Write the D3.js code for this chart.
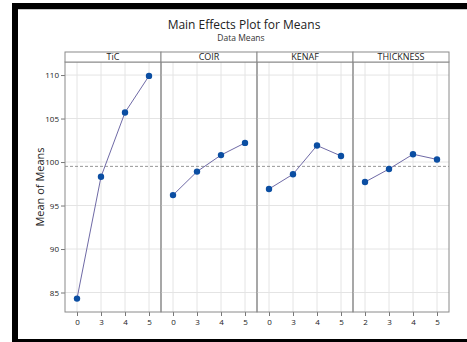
<!DOCTYPE html>
<html>
<head>
<meta charset="utf-8">
<script src="https://cdn.jsdelivr.net/npm/d3@7"></script>
<style>
  body { margin: 0; background: #fff; }
  svg { display: block; font-family: "Open Sans", "Noto Sans", sans-serif; }
</style>
</head>
<body>
<svg width="467" height="342"></svg>
<script>
// factor names and their levels
const factors = ["TiC", "COIR", "KENAF", "THICKNESS"];
const tickLabels = [
  ["0", "3", "4", "5"],
  ["0", "3", "4", "5"],
  ["0", "3", "4", "5"],
  ["2", "3", "4", "5"]
];
// means at each level
const ticMeans = [84.3, 98.3, 105.7, 109.9];
const coirMeans = [96.2, 98.9, 100.8, 102.2];
const kenafMeans = [96.9, 98.6, 101.9, 100.7];
const thicknessMeans = [97.7, 99.2, 100.9, 100.3];
const grandMean = 99.5;
const yTicks = [85, 90, 95, 100, 105, 110];

const allMeans = [ticMeans, coirMeans, kenafMeans, thicknessMeans];

const svg = d3.select("svg");

// black frame around the picture
svg.append("rect").attr("x", 12).attr("y", 3).attr("width", 470).attr("height", 6).attr("fill", "#000");
svg.append("rect").attr("x", 12).attr("y", 3).attr("width", 6).attr("height", 340).attr("fill", "#000");
svg.append("rect").attr("x", 12).attr("y", 339).attr("width", 470).attr("height", 4).attr("fill", "#000");
svg.append("line").attr("x1", 18).attr("x2", 467).attr("y1", 9.5).attr("y2", 9.5)
    .attr("stroke", "#c8c8c8").attr("stroke-width", 1);

// titles
svg.append("text").attr("x", 244).attr("y", 29).attr("text-anchor", "middle")
    .attr("font-size", 12).attr("fill", "#222").text("Main Effects Plot for Means");
svg.append("text").attr("x", 241).attr("y", 41).attr("text-anchor", "middle")
    .attr("font-size", 8.5).attr("fill", "#333").text("Data Means");

const plotLeft = 65, plotRight = 449, plotTop = 62, plotBottom = 312, stripTop = 52;
const panelW = (plotRight - plotLeft) / factors.length;

let y = d3.scaleLinear().domain([82.76, 111.5]).range([plotBottom, plotTop]);

// y axis
svg.append("g")
    .attr("transform", "translate(" + plotLeft + ",0)")
    .call(d3.axisLeft(y).tickValues(yTicks).tickSize(4).tickPadding(2))
    .call(g => g.select(".domain").remove())
    .call(g => g.selectAll("line").attr("stroke", "#777"))
    .call(g => g.selectAll("text").attr("font-size", 8).attr("fill", "#222").attr("font-family", "Open Sans"));

svg.append("text")
    .attr("transform", "translate(44," + ((plotTop + plotBottom) / 2) + ") rotate(-90)")
    .attr("text-anchor", "middle").attr("font-size", 11).attr("fill", "#222")
    .text("Mean of Means");

factors.forEach((f, i) => {
  let x0 = plotLeft + i * panelW;
  let x = d3.scalePoint().domain(tickLabels[i]).range([x0, x0 + panelW]).padding(0.5);
  let g = svg.append("g");

  // gridlines
  g.selectAll(".hgrid").data(yTicks).join("line")
      .attr("x1", x0).attr("x2", x0 + panelW)
      .attr("y1", d => y(d)).attr("y2", d => y(d))
      .attr("stroke", "#e4e4e4").attr("stroke-width", 1);
  g.selectAll(".vgrid").data(tickLabels[i]).join("line")
      .attr("x1", d => x(d)).attr("x2", d => x(d))
      .attr("y1", plotTop).attr("y2", plotBottom)
      .attr("stroke", "#e4e4e4").attr("stroke-width", 1);

  // grand mean reference
  g.append("line")
      .attr("x1", x0).attr("x2", x0 + panelW)
      .attr("y1", y(grandMean)).attr("y2", y(grandMean))
      .attr("stroke", "#8c8c8c").attr("stroke-width", 0.9).attr("stroke-dasharray", "3,2");

  // x axis
  g.append("g")
      .attr("transform", "translate(0," + plotBottom + ")")
      .call(d3.axisBottom(x).tickSize(4).tickPadding(3))
      .call(a => a.select(".domain").remove())
      .call(a => a.selectAll("line").attr("stroke", "#777"))
      .call(a => a.selectAll("text").attr("font-size", 8).attr("fill", "#222").attr("font-family", "Open Sans"));

  // panel border
  g.append("rect")
      .attr("x", x0).attr("y", plotTop).attr("width", panelW).attr("height", plotBottom - plotTop)
      .attr("fill", "none").attr("stroke", "#8a8a8a").attr("stroke-width", 1);

  // strip header
  g.append("rect")
      .attr("x", x0).attr("y", stripTop).attr("width", panelW).attr("height", plotTop - stripTop)
      .attr("fill", "#fff").attr("stroke", "#8a8a8a").attr("stroke-width", 1);
  g.append("text")
      .attr("x", x0 + panelW / 2).attr("y", plotTop - 2).attr("text-anchor", "middle")
      .attr("font-size", 9).attr("fill", "#222").text(f);

  let data = tickLabels[i].map((t, j) => ({ t: t, v: allMeans[i][j] }));
  let line = d3.line().x(d => x(d.t)).y(d => y(d.v));
  g.append("path")
      .datum(data)
      .attr("d", line)
      .attr("fill", "none")
      .attr("stroke", "#6f6aa6")
      .attr("stroke-width", 1);
  g.selectAll("circle").data(data).join("circle")
      .attr("cx", d => x(d.t)).attr("cy", d => y(d.v)).attr("r", 3.2)
      .attr("fill", "#0b4ea2");
});
</script>
</body>
</html>
